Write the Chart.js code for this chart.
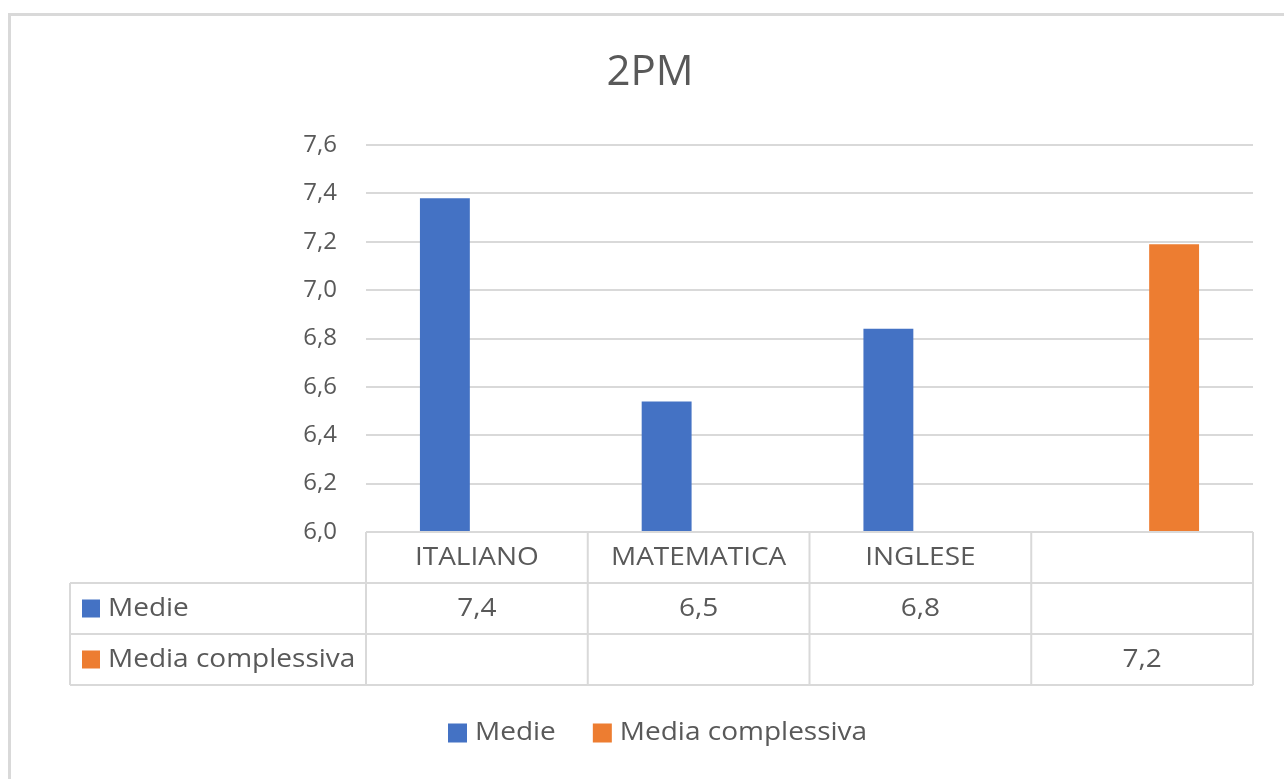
<!DOCTYPE html>
<html>
<head>
<meta charset="utf-8">
<title>2PM</title>
<script src="https://cdn.jsdelivr.net/npm/chart.js@4/dist/chart.umd.min.js"></script>
<style>
  html, body { margin: 0; padding: 0; background: #fff; }
  .frame { position: absolute; left: 0; top: 0; width: 1284px; height: 779px; overflow: hidden; }
  .border { position: absolute; left: 8px; top: 13px; width: 1300px; height: 800px;
            border-left: 3px solid #d9d9d9; border-top: 3px solid #d9d9d9; }
  canvas { position: absolute; left: 0; top: 0; }
</style>
</head>
<body>
<div class="frame">
  <div class="border"></div>
  <canvas id="barChart" width="1284" height="779"></canvas>
</div>
<script>
// dati
const titolo = '2PM';
const categorie = ['ITALIANO', 'MATEMATICA', 'INGLESE', ''];
const serieNomi = ['Medie', 'Media complessiva'];
const medie = [7.38, 6.54, 6.84, null];
const mediaComplessiva = [null, null, null, 7.19];
const colori = ['#4472c4', '#ed7d31'];
const yMin = 6.0, yMax = 7.6, yStep = 0.2;

const FONT = "'Open Sans', 'Noto Sans', sans-serif";
const GREY = '#595959';
const LINE = '#d9d9d9';
const STRETCH = 1.12; // il testo originale e' un po' piu' largo

function virgola(v) {
  return v.toFixed(1).replace('.', ',');
}

function testo(ctx, t, x, y, align, sx) {
  ctx.save();
  ctx.translate(x, y);
  ctx.scale(sx || STRETCH, 1);
  ctx.textAlign = align;
  ctx.fillText(t, 0, 0);
  ctx.restore();
}

// titolo, tabella dati e legenda in stile Excel
const tabellaExcel = {
  id: 'tabellaExcel',
  afterDraw(chart) {
    const ctx = chart.ctx;
    const area = chart.chartArea;
    const xScale = chart.scales.x;
    const yScale = chart.scales.y;
    const n = categorie.length;
    const cw = (area.right - area.left) / n;
    const top = yScale.getPixelForValue(yMin);
    const rowH = 51;
    const labelLeft = 70;
    const series = [medie, mediaComplessiva];

    ctx.save();
    ctx.textBaseline = 'middle';
    // titolo
    ctx.fillStyle = GREY;
    ctx.font = '42px ' + FONT;
    testo(ctx, titolo, 650, 73, 'center', 1);

    // griglia tabella
    ctx.strokeStyle = LINE;
    ctx.lineWidth = 2;
    ctx.beginPath();
    ctx.moveTo(area.left, top);
    ctx.lineTo(area.right, top);
    for (let r = 1; r <= series.length + 1; r++) {
      ctx.moveTo(labelLeft, top + r * rowH);
      ctx.lineTo(area.right, top + r * rowH);
    }
    for (let i = 0; i <= n; i++) {
      const xx = area.left + i * cw;
      ctx.moveTo(xx, top);
      ctx.lineTo(xx, top + (series.length + 1) * rowH);
    }
    ctx.moveTo(labelLeft, top + rowH);
    ctx.lineTo(labelLeft, top + (series.length + 1) * rowH);
    ctx.stroke();

    // intestazioni categorie
    ctx.font = '25px ' + FONT;
    ctx.fillStyle = GREY;
    categorie.forEach((c, i) => {
      testo(ctx, c, xScale.getPixelForValue(i), top + rowH / 2, 'center');
    });

    // righe delle serie
    series.forEach((s, r) => {
      const cy = top + (r + 1.5) * rowH;
      ctx.fillStyle = colori[r];
      ctx.fillRect(82, cy - 9, 18, 18);
      ctx.fillStyle = GREY;
      testo(ctx, serieNomi[r], 108, cy, 'left');
      s.forEach((v, i) => {
        if (v !== null) testo(ctx, virgola(v), xScale.getPixelForValue(i), cy, 'center');
      });
    });

    // legenda
    const ly = 733;
    let lx = 448;
    serieNomi.forEach((nome, r) => {
      ctx.fillStyle = colori[r];
      ctx.fillRect(lx, ly - 9.5, 19, 19);
      ctx.fillStyle = GREY;
      testo(ctx, nome, lx + 27, ly, 'left');
      lx += 27 + ctx.measureText(nome).width * STRETCH + 37;
    });
    ctx.restore();
  }
};

const ctxB = document.getElementById('barChart').getContext('2d');
new Chart(ctxB, {
  type: 'bar',
  data: {
    labels: categorie,
    datasets: [
      {
        label: serieNomi[0],
        data: medie,
        backgroundColor: colori[0],
        categoryPercentage: 0.577,
        barPercentage: 0.78,
      },
      {
        label: serieNomi[1],
        data: mediaComplessiva,
        backgroundColor: colori[1],
        categoryPercentage: 0.577,
        barPercentage: 0.78,
      },
    ],
  },
  options: {
    responsive: false,
    animation: false,
    layout: { padding: { top: 145, bottom: 247, left: 0, right: 31 } },
    plugins: {
      legend: { display: false },
      title: { display: false },
      tooltip: { enabled: false },
    },
    scales: {
      x: { display: false },
      y: {
        min: yMin,
        max: yMax,
        afterFit(scale) { scale.width = 366; },
        border: { display: false },
        grid: { color: LINE, lineWidth: 2, drawTicks: false },
        ticks: {
          stepSize: yStep,
          padding: 29,
          color: GREY,
          font: { family: FONT, size: 24 },
          callback: (v) => virgola(v),
        },
      },
    },
  },
  plugins: [tabellaExcel],
});
</script>
</body>
</html>
